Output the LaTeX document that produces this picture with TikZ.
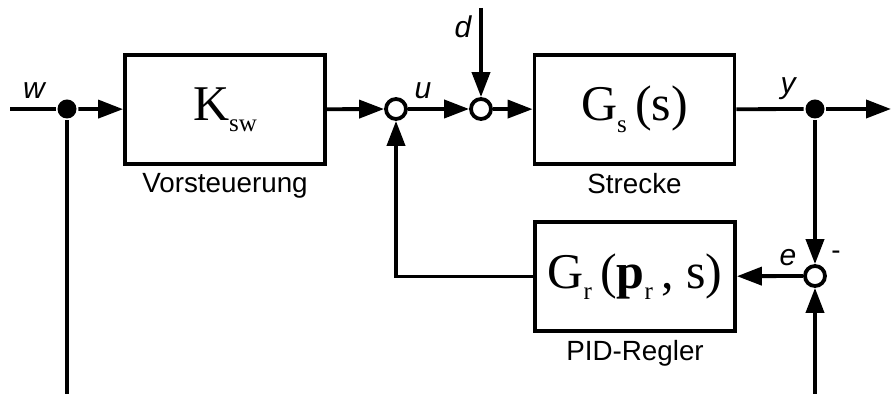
\documentclass[tikz,border=0pt]{standalone}
\usepackage{fontspec}
\setmainfont{Liberation Sans}
\newfontfamily\blockfont{Liberation Serif}
\usetikzlibrary{arrows.meta,positioning}
\newcommand{\lowidx}[1]{\raisebox{-0.5ex}{\fontsize{12.5}{13}\selectfont #1}}

\begin{document}
\begin{tikzpicture}[x=0.5pt,y=-0.5pt,>={Triangle[length=12.5pt,width=9pt]},line width=1.9pt,
  block/.style={draw,minimum width=100pt,minimum height=54.5pt,inner sep=0pt,
    font=\blockfont\fontsize{25}{27}\selectfont},
  sumpt/.style={draw,circle,fill=white,minimum size=10pt,inner sep=0pt},
  dotpt/.style={circle,fill,minimum size=9.5pt,inner sep=0pt},
  sig/.style={font=\itshape\fontsize{15}{17}\selectfont,inner sep=1pt},
  blocklab/.style={font=\fontsize{13.9}{15}\selectfont,inner sep=2pt}]
\useasboundingbox (0,0) rectangle (891,394);

\coordinate (win) at (10,109);
\node[dotpt] (wdot) at (67,109) {};
\coordinate (wbot) at (67,394);
\node[block] (ksw) at (225,109.5) {K\lowidx{sw}};
\node[blocklab,below=1pt of ksw] (kswlab) {Vorsteuerung};
\node[sumpt] (sum1) at (396,109) {};
\node[sumpt] (sum2) at (481,109) {};
\coordinate (dtop) at (481,8);
\node[block] (gs) at (634.5,109.5) {G\lowidx{s}\,(s)};
\node[blocklab,below=1pt of gs] (gslab) {Strecke};
\node[dotpt] (ydot) at (815,109) {};
\coordinate (yout) at (891,109);
\node[sumpt] (sum3) at (815,276) {};
\coordinate (ebot) at (815,394);
\node[block] (pid) at (635,276.5) {G\lowidx{r}\,(\textbf{p}\lowidx{r}\,, s)};
\node[blocklab,below=1pt of pid] (pidlab) {PID-Regler};

\node[sig] (wlab) at (34,91) {w};
\node[sig] (ulab) at (423,91) {u};
\node[sig] (dlab) at (463,27) {d};
\node[sig] (ylab) at (788,89) {y};
\node[sig] (elab) at (788,258) {e};
\node[blocklab] (minus) at (836,255) {-};

\draw (win) -- (wdot);
\draw[->] (wdot) -- (ksw);
\draw (wdot) -- (wbot);
\draw[->] (ksw) -- (sum1);
\draw[->] (sum1) -- (sum2);
\draw[->] (dtop) -- (sum2);
\draw[->] (sum2) -- (gs);
\draw (gs) -- (ydot);
\draw[->] (ydot) -- (yout);
\draw[->] (ydot) -- (sum3);
\draw[->] (ebot) -- (sum3);
\draw[->] (sum3) -- (pid);
\draw[->] (pid) -| (sum1);
\end{tikzpicture}
\end{document}
